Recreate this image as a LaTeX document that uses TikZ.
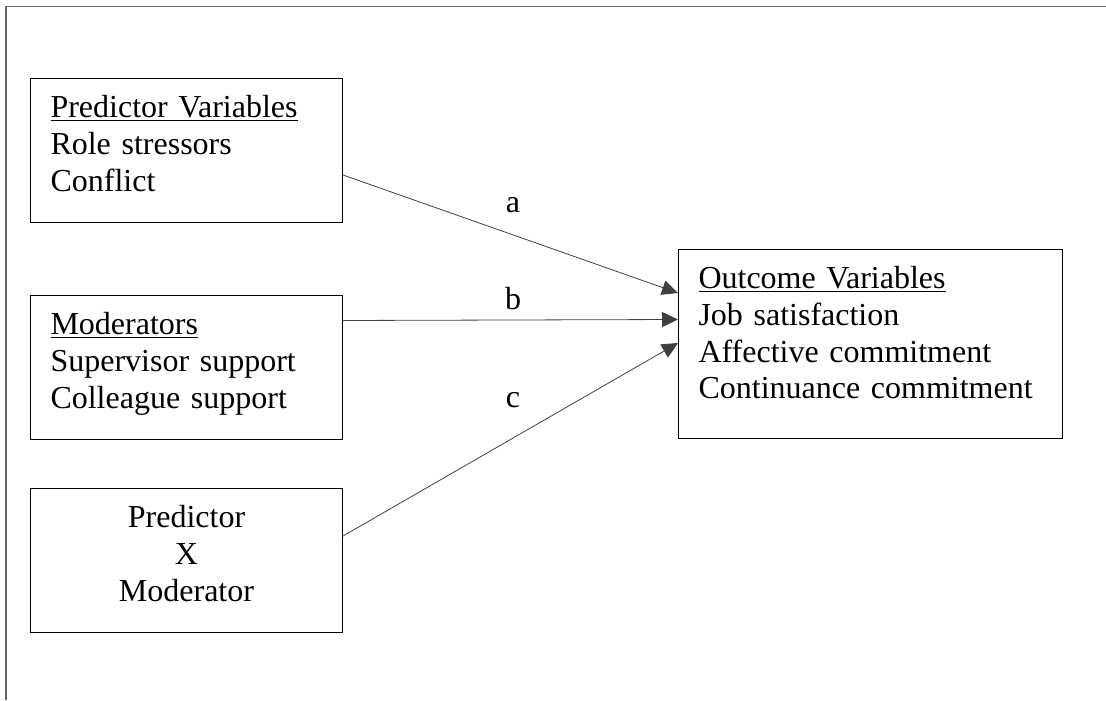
\documentclass[tikz,border=0pt]{standalone}
\usepackage{fontspec}
\setmainfont{Liberation Serif}
\usetikzlibrary{arrows.meta,positioning}

\begin{document}
\begin{tikzpicture}[>={Triangle[length=8pt,width=7.5pt]},node distance=36pt,
        font=\fontsize{16pt}{18.4pt}\selectfont,
        var/.style={draw,rectangle,line width=0.5pt,inner xsep=10pt,inner ysep=0pt,
                    text width=136pt,align=left,text height=19.5pt,text depth=52.5pt},
        link/.style={->,line width=0.4pt,draw=black!75}]

        \useasboundingbox (0,0) rectangle (553pt,-350pt);
        \draw[line width=0.8pt,black!60] (3pt,-350pt) -- (3pt,-3.25pt) -- (553pt,-3.25pt);

        \node[var,anchor=north west] (pred) at (15pt,-39pt)
                {\underline{Predictor Variables}\\Role stressors\\Conflict};

        \node[var] (mod) [below=of pred]
                {\underline{Moderators}\\Supervisor support\\Colleague support};

        \node[var,align=center] (inter) [below=24pt of mod]
                {Predictor\\X\\Moderator};

        \node[var,anchor=north west,text width=172pt,text depth=75pt] (out) at (339pt,-124.5pt)
                {\underline{Outcome Variables}\\Job satisfaction\\Affective commitment\\Continuance commitment};

        \node[anchor=base] (la) at (256.5pt,-106.5pt) {a};
        \node[anchor=base] (lb) at (256.5pt,-154.5pt) {b};
        \node[anchor=base] (lc) at (256.5pt,-203.5pt) {c};

        \draw[link] ([yshift=-48.5pt]pred.north east) -- ([yshift=-22pt]out.north west);
        \draw[link] ([yshift=-12.75pt]mod.north east) -- ([yshift=-35.25pt]out.north west);
        \draw[link] ([yshift=-24pt]inter.north east) -- ([yshift=-47pt]out.north west);

\end{tikzpicture}
\end{document}
